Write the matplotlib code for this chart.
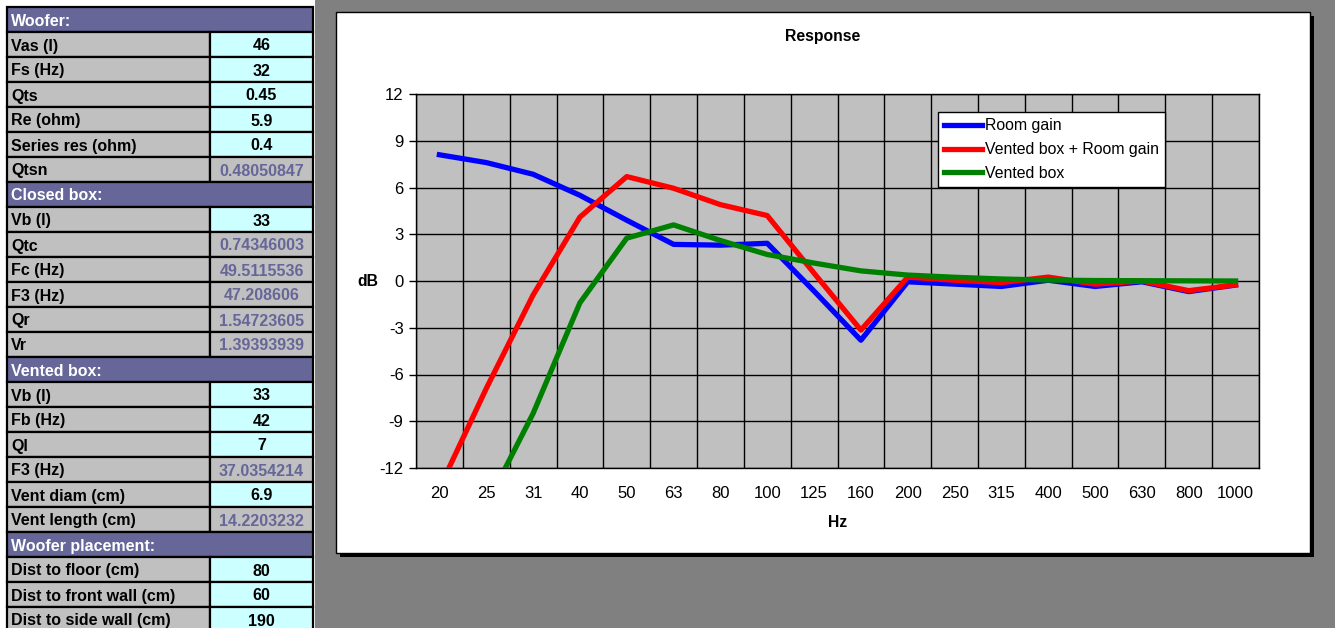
import numpy as np
import matplotlib.pyplot as plt
from matplotlib.patches import Rectangle

plt.rcParams['font.family'] = ['Liberation Sans', 'DejaVu Sans']

# chart data
freqs = ['20', '25', '31', '40', '50', '63', '80', '100', '125', '160',
         '200', '250', '315', '400', '500', '630', '800', '1000']
room_gain = [8.1, 7.6, 6.85, 5.5, 3.9, 2.35, 2.3, 2.42, -0.65, -3.8,
             -0.05, -0.2, -0.35, 0.05, -0.35, -0.05, -0.68, -0.26]
vented_plus_room = [-13.3, -6.9, -0.9, 4.1, 6.7, 5.95, 4.9, 4.2, 0.5, -3.15,
                    0.25, 0.05, -0.1, 0.25, -0.2, 0.0, -0.62, -0.25]
vented_box = [-20.5, -14.4, -8.5, -1.4, 2.75, 3.6, 2.6, 1.7, 1.15, 0.65,
              0.38, 0.24, 0.13, 0.06, 0.03, 0.02, 0.01, 0.0]
yticks = [-12, -9, -6, -3, 0, 3, 6, 9, 12]

# spreadsheet table: label, value, kind (h=header, i=input, c=computed)
tbl_labels = ['Woofer:', 'Vas (l)', 'Fs (Hz)', 'Qts', 'Re (ohm)', 'Series res (ohm)', 'Qtsn',
              'Closed box:', 'Vb (l)', 'Qtc', 'Fc (Hz)', 'F3 (Hz)', 'Qr', 'Vr',
              'Vented box:', 'Vb (l)', 'Fb (Hz)', 'Ql', 'F3 (Hz)', 'Vent diam (cm)', 'Vent length (cm)',
              'Woofer placement:', 'Dist to floor (cm)', 'Dist to front wall (cm)', 'Dist to side wall (cm)']
tbl_values = ['', '46', '32', '0.45', '5.9', '0.4', '0.48050847',
              '', '33', '0.74346003', '49.5115536', '47.208606', '1.54723605', '1.39393939',
              '', '33', '42', '7', '37.0354214', '6.9', '14.2203232',
              '', '80', '60', '190']
tbl_kinds = ['h', 'i', 'i', 'i', 'i', 'i', 'c',
             'h', 'i', 'c', 'c', 'c', 'c', 'c',
             'h', 'i', 'i', 'i', 'c', 'i', 'c',
             'h', 'i', 'i', 'i']

W, H = 1335, 628
fig = plt.figure(figsize=(W / 100, H / 100), dpi=100, facecolor='#808080')

bg = fig.add_axes([0, 0, 1, 1])
bg.set_xlim(0, W)
bg.set_ylim(H, 0)
bg.axis('off')
bg.add_patch(Rectangle((0, 0), 315, H, facecolor='white', edgecolor='none'))

# table
x0, xs, x1 = 7, 210, 313
y0, rh = 7, 25
purple = '#666699'
fs_tbl = 11.5
for i, (lab, val, kind) in enumerate(zip(tbl_labels, tbl_values, tbl_kinds)):
    top = y0 + i * rh
    ty = top + rh / 2 + 1.5
    if kind == 'h':
        bg.add_patch(Rectangle((x0, top), x1 - x0, rh, facecolor=purple,
                               edgecolor='black', lw=1.6))
        bg.text(x0 + 4, ty, lab, color='white', fontsize=fs_tbl,
                fontweight='bold', va='center', ha='left')
        continue
    bg.add_patch(Rectangle((x0, top), xs - x0, rh, facecolor='#C0C0C0',
                           edgecolor='black', lw=1.6))
    fc = '#CCFFFF' if kind == 'i' else '#C0C0C0'
    tc = 'black' if kind == 'i' else purple
    bg.add_patch(Rectangle((xs, top), x1 - xs, rh, facecolor=fc,
                           edgecolor='black', lw=1.6))
    bg.text(x0 + 4, ty, lab, color='black', fontsize=fs_tbl,
            fontweight='bold', va='center', ha='left')
    bg.text((xs + x1) / 2, ty, val, color=tc, fontsize=fs_tbl,
            fontweight='bold', va='center', ha='center')

# chart area with shadow
bg.add_patch(Rectangle((340, 16), 974, 541, facecolor='black', edgecolor='none'))
bg.add_patch(Rectangle((336, 12), 974, 541, facecolor='white', edgecolor='black', lw=1))
bg.text(823, 37, 'Response', fontsize=11.3, fontweight='bold', ha='center', va='center')

# plot area
px0, py0, px1, py1 = 416, 94, 1259, 468
ax = fig.add_axes([px0 / W, (H - py1) / H, (px1 - px0) / W, (py1 - py0) / H])
ax.set_facecolor('#C0C0C0')
x = np.arange(len(freqs))
ax.plot(x, room_gain, color='#0000FF', lw=3.8, label='Room gain', zorder=3)
ax.plot(x, vented_plus_room, color='#FF0000', lw=3.8, label='Vented box + Room gain', zorder=3)
ax.plot(x, vented_box, color='#008000', lw=3.8, label='Vented box', zorder=3)

ax.set_xlim(-0.5, len(freqs) - 0.5)
ax.set_ylim(-12, 12)
ax.set_xticks(x)
ax.set_xticklabels(freqs, fontsize=12)
ax.set_xticks(np.arange(len(freqs) + 1) - 0.5, minor=True)
ax.set_yticks(yticks)
ax.set_yticklabels([str(v) for v in yticks], fontsize=12)
ax.tick_params(axis='x', which='major', length=0, pad=13)
ax.tick_params(axis='x', which='minor', length=0)
ax.tick_params(axis='y', length=5, width=1, pad=4)
ax.grid(True, which='minor', axis='x', color='black', lw=1)
ax.grid(True, which='major', axis='y', color='black', lw=1)
for s in ax.spines.values():
    s.set_color('black')
    s.set_linewidth(1)

ax.set_xlabel('Hz', fontsize=11.3, fontweight='bold', labelpad=10)
ax.set_ylabel('dB', fontsize=11.3, fontweight='bold', rotation=0, labelpad=8, va='center')

leg = ax.legend(loc='upper left', bbox_to_anchor=((938 - px0) / (px1 - px0), (py1 - 112) / (py1 - py0)),
                fontsize=11.4, frameon=True, fancybox=False, framealpha=1, edgecolor='black',
                handlelength=2.4, handletextpad=0.15, labelspacing=0.55, borderpad=0.4,
                borderaxespad=0)
leg.get_frame().set_linewidth(1)

fig.savefig('out.png', dpi=100, facecolor=fig.get_facecolor())
